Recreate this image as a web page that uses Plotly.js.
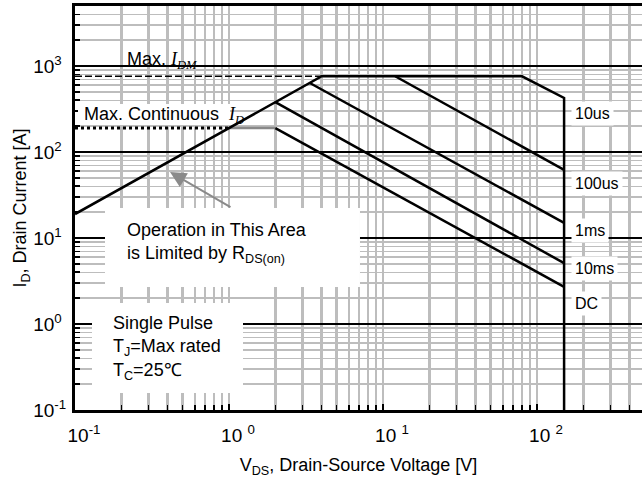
<!DOCTYPE html>
<html><head><meta charset="utf-8">
<script src="https://cdn.plot.ly/plotly-3.0.1.min.js"></script>
<style>html,body{margin:0;padding:0;background:#fff}#chart{width:642px;height:486px}</style>
</head><body><div id="chart"></div>
<script>
// ---- data (V in volts, I in amperes) ----
const rdsLimitV = [0.1, 1, 2, 3.35, 4, 80, 150, 150];   // RDS(on) limit + 10us boundary + BVdss
const rdsLimitI = [19, 190, 380, 635, 760, 760, 425, 0.1];
const us100V = [12, 150];   const us100I = [760, 62];
const ms1V   = [3.35, 150]; const ms1I   = [635, 15];
const ms10V  = [2, 150];    const ms10I  = [380, 5.1];
const dcV    = [2, 150];    const dcI    = [190, 2.7];
const plateauV = [1, 2];    const plateauI = [190, 190];
const idContV  = [0.1, 1];  const idContI  = [190, 190];
const idmV     = [0.1, 4];  const idmI     = [760, 760];
const curveLabels = ['10us', '100us', '1ms', '10ms', 'DC'];
const curveLabelI = [284, 43.6, 12.1, 4.37, 1.71];
const curveLabelV = 166;
const arrowHead = [0.414, 58.5];
const arrowTail = [1.046, 22.3];
const xTickVals = [0.1, 1, 10, 100];
const xTickText = ['10<sup>-1</sup>', '10 <sup>0</sup>', '10 <sup>1</sup>', '10 <sup>2</sup>'];
const yTickVals = [0.1, 1, 10, 100, 1000];
const PADY = '<span style="color:#fff">-</span>';
const yTickText = ['10<sup>-1</sup>', '10<sup>0' + PADY + '</sup>', '10<sup>1' + PADY + '</sup>',
                   '10<sup>2' + PADY + '</sup>', '10<sup>3' + PADY + '</sup>'];

function minorVals(decades, maxV) {
  const out = [];
  decades.forEach(d => { for (let k = 2; k <= 9; k++) { if (d * k <= maxV) out.push(d * k); } });
  return out;
}
const xMinor = minorVals([0.1, 1, 10, 100], 480);
const yMinor = minorVals([0.1, 1, 10, 100, 1000], 5000);

const FONT = 'Liberation Sans, Arial, sans-serif';
const GRID = '#bdbdbd';

function line(x, y, color, width, dash) {
  return {x: x, y: y, type: 'scatter', mode: 'lines', hoverinfo: 'skip', showlegend: false,
          line: {color: color, width: width, dash: dash || 'solid'}};
}
const data = [
  line(idContV, idContI, '#000', 3, 'dot'),
  line(idmV, idmI, '#000', 1.6, '7px,3px'),
  line(plateauV, plateauI, '#888888', 2.5),
  line(rdsLimitV, rdsLimitI, '#000', 2.5),
  line(us100V, us100I, '#000', 2.5),
  line(ms1V, ms1I, '#000', 2.5),
  line(ms10V, ms10I, '#000', 2.5),
  line(dcV, dcI, '#000', 2.5)
];

const annotations = [
  {xref: 'paper', yref: 'paper', x: 0.0882, y: 0.866, xanchor: 'left', yanchor: 'middle', showarrow: false,
   text: 'Max. <span style="font-family:Liberation Serif,Times New Roman,serif"><i>I<sub>DM</sub></i></span>',
   font: {size: 18, color: '#000', family: FONT}},
  {xref: 'paper', yref: 'paper', x: 0.0123, y: 0.730, xanchor: 'left', yanchor: 'middle', showarrow: false,
   text: 'Max. Continuous  <span style="font-family:Liberation Serif,Times New Roman,serif"><i>I<sub>D</sub></i></span>',
   font: {size: 18, color: '#000', family: FONT}},
  {xref: 'paper', yref: 'paper', x: 0.0882, y: 0.4146, xanchor: 'left', yanchor: 'middle', showarrow: false, align: 'left',
   text: 'Operation in This Area<br>is Limited by R<sub>DS(on)</sub>',
   font: {size: 18, color: '#000', family: FONT}},
  {xref: 'paper', yref: 'paper', x: 0.0635, y: 0.1547, xanchor: 'left', yanchor: 'middle', showarrow: false, align: 'left',
   text: 'Single Pulse<br>T<sub>J</sub>=Max rated<br>T<sub>C</sub>=25\u2103',
   font: {size: 18, color: '#000', family: FONT}},
  {xref: 'x', yref: 'y', axref: 'x', ayref: 'y', text: '', showarrow: true,
   x: Math.log10(arrowHead[0]), y: Math.log10(arrowHead[1]),
   ax: Math.log10(arrowTail[0]), ay: Math.log10(arrowTail[1]),
   arrowcolor: '#8a8a8a', arrowwidth: 2, arrowhead: 2, arrowsize: 1.6}
];
curveLabels.forEach((t, i) => {
  annotations.push({xref: 'x', yref: 'y', x: Math.log10(curveLabelV), y: Math.log10(curveLabelI[i]),
    xanchor: 'left', yanchor: 'middle', showarrow: false, text: t, bgcolor: '#fff', borderpad: 3,
    font: {size: 16, color: '#000', family: FONT}});
});

const boxes = [
  [0.0529, 0.5026, 0.3045, 0.5],
  [0.030, 0.2963, 0.0421, 0.2649],
  [0.0053, 0.2734, 0.7054, 0.7574]
].map(b => ({type: 'rect', xref: 'x domain', yref: 'y domain', x0: b[0], x1: b[1], y0: b[2], y1: b[3],
             fillcolor: '#fff', line: {width: 0}, layer: 'above'}));

const layout = {
  width: 642, height: 486,
  margin: {l: 75, r: 0, t: 6, b: 76},
  paper_bgcolor: '#fff', plot_bgcolor: '#fff',
  font: {family: FONT, color: '#000'},
  showlegend: false,
  xaxis: {
    type: 'log', range: [-1, 2.682], tickmode: 'array', tickvals: xTickVals, ticktext: xTickText,
    ticks: 'inside', ticklen: 6, tickwidth: 1.5, tickcolor: '#000',
    showgrid: true, gridcolor: GRID, gridwidth: 2.5, zeroline: false,
    showline: true, linecolor: '#000', linewidth: 3, mirror: true,
    tickfont: {size: 19, family: FONT}, ticklabelshift: 9, ticklabelstandoff: 6,
    minor: {tickmode: 'array', tickvals: xMinor, ticks: 'inside', ticklen: 5, tickwidth: 1.5, tickcolor: '#000',
            showgrid: true, gridcolor: GRID, gridwidth: 2.5},
    title: {text: 'V<sub>DS</sub>, Drain-Source Voltage [V]', font: {size: 18, family: FONT}, standoff: 14}
  },
  yaxis: {
    type: 'log', range: [-1, 3.698], tickmode: 'array', tickvals: yTickVals, ticktext: yTickText,
    ticks: 'inside', ticklen: 6, tickwidth: 1.5, tickcolor: '#000',
    showgrid: true, gridcolor: '#000', gridwidth: 1.6, zeroline: false,
    showline: true, linecolor: '#000', linewidth: 3, mirror: false,
    tickfont: {size: 19, family: FONT}, ticklabelstandoff: 2,
    minor: {tickmode: 'array', tickvals: yMinor, ticks: 'inside', ticklen: 5, tickwidth: 1.5, tickcolor: '#000',
            showgrid: true, gridcolor: GRID, gridwidth: 1.4},
    title: {text: 'I<sub>D</sub>, Drain Current [A]', font: {size: 18, family: FONT}, standoff: 0}
  },
  shapes: boxes,
  annotations: annotations
};
Plotly.newPlot('chart', data, layout, {displayModeBar: false, staticPlot: true});
</script></body></html>
